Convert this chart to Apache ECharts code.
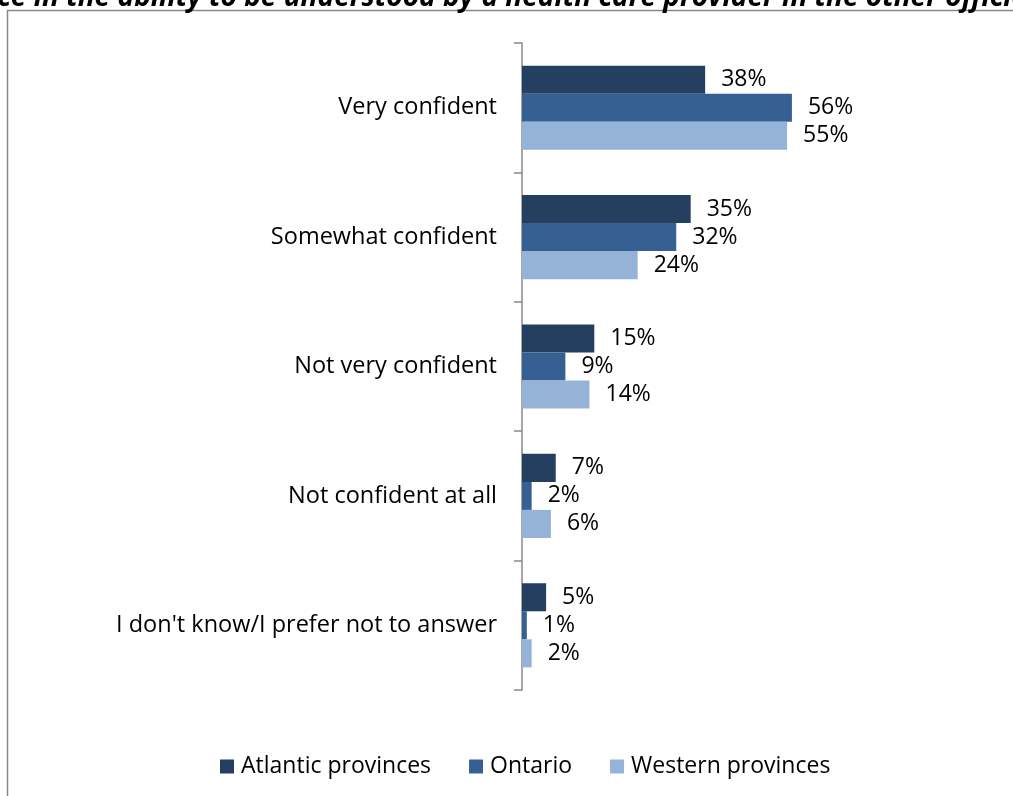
<!DOCTYPE html>
<html>
<head>
<meta charset="utf-8">
<script src="https://cdn.jsdelivr.net/npm/echarts@6/dist/echarts.min.js"></script>
<style>html,body{margin:0;padding:0;background:#fff}#c{width:1013px;height:796px}</style>
</head>
<body>
<div id="c"></div>
<script>
const titleText = "Confidence in the ability to be understood by a health care provider in the other official language";
const categories = ["Very confident", "Somewhat confident", "Not very confident", "Not confident at all", "I don't know/I prefer not to answer"];
const seriesNames = ["Atlantic provinces", "Ontario", "Western provinces"];
const atlantic = [38, 35, 15, 7, 5];
const ontario = [56, 32, 9, 2, 1];
const western = [55, 24, 14, 6, 2];
const colors = ["#253F61", "#376092", "#95B3D7"];
const FONT = "Open Sans";

const chart = echarts.init(document.getElementById('c'), null, {renderer: 'canvas'});
const mk = (name, data, i) => ({
  name, type: 'bar', data,
  barGap: '0%', barCategoryGap: '35%',
  itemStyle: {color: colors[i]},
  label: {show: true, position: 'right', distance: 16, formatter: '{c}%', color: '#000', fontFamily: FONT, fontSize: 23},
  emphasis: {disabled: true}, animation: false
});
chart.setOption({
  animation: false,
  textStyle: {fontFamily: FONT},
  graphic: [
    {type: 'rect', shape: {x: 7.5, y: 10.5, width: 1100, height: 900}, style: {fill: 'none', stroke: '#888', lineWidth: 1.5}, silent: true},
    {type: 'text', x: -121, y: 12, style: {text: titleText, font: 'italic bold 28px "Open Sans"', fill: '#000', verticalAlign: 'bottom', align: 'left'}, silent: true}
  ],
  legend: {
    data: seriesNames, left: 215, top: 750, icon: 'rect', itemWidth: 14, itemHeight: 14, itemGap: 38,
    textStyle: {fontFamily: FONT, fontSize: 23, color: '#000', padding: [0,0,0,2]}
  },
  grid: {left: 522, top: 43, width: 482, height: 647, containLabel: false},
  xAxis: {type: 'value', min: 0, max: 100, show: false},
  yAxis: {
    type: 'category', data: categories, inverse: true, boundaryGap: true,
    axisLine: {show: true, lineStyle: {color: '#888', width: 1.5}},
    axisTick: {show: true, inside: false, alignWithLabel: false, interval: 0, length: 8, lineStyle: {color: '#888', width: 1.5}},
    axisLabel: {color: '#000', fontFamily: FONT, fontSize: 23.5, margin: 25}
  },
  series: [mk(seriesNames[0], atlantic, 0), mk(seriesNames[1], ontario, 1), mk(seriesNames[2], western, 2)]
});
</script>
</body>
</html>
